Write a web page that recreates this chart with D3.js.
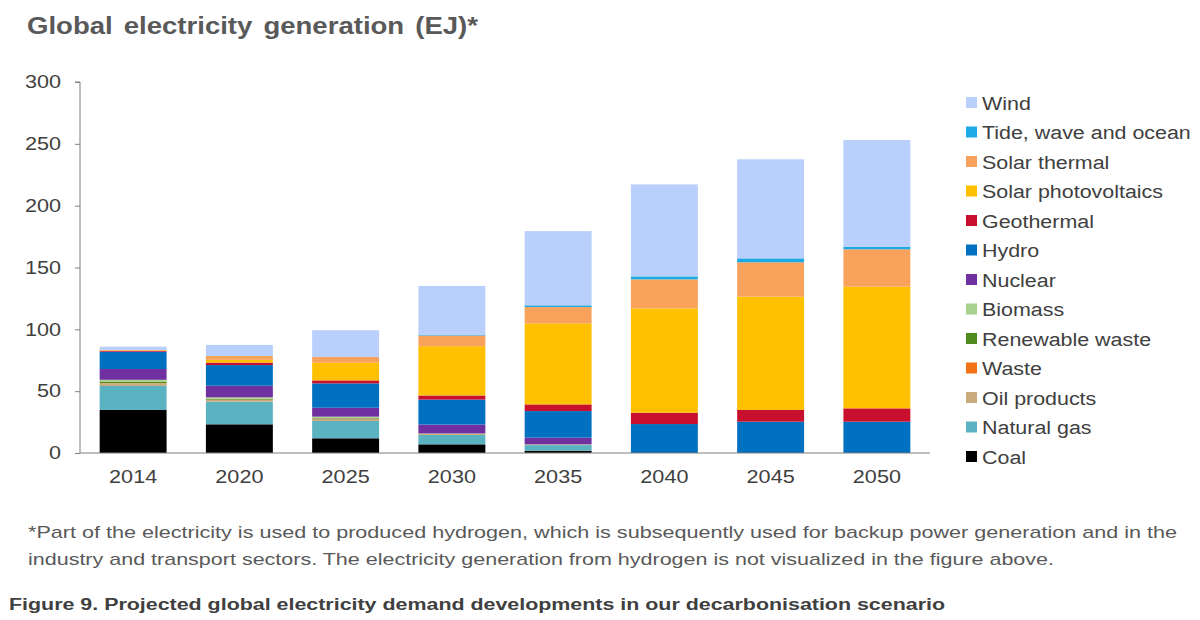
<!DOCTYPE html>
<html><head><meta charset="utf-8">
<script src="https://cdn.jsdelivr.net/npm/d3@7"></script>
<style>
html,body{margin:0;padding:0;background:#fff;}
text{font-family:"Liberation Sans",Arial,sans-serif;}
</style></head>
<body><svg id="c" width="1200" height="620"></svg>
<script>
const years = ["2014","2020","2025","2030","2035","2040","2045","2050"];
// series bottom to top
const coal        = [34.8, 23.2, 11.9, 7.0, 1.8, 0, 0, 0];
const naturalGas  = [19.4, 18.3, 14.0, 7.6, 4.6, 0, 0, 0];
const oilProducts = [2.1, 1.5, 1.8, 0.6, 0.3, 0, 0, 0];
const waste       = [0.2, 0.2, 0.2, 0.1, 0, 0, 0, 0];
const renewableWaste = [1.2, 0.6, 0.5, 0.2, 0.1, 0, 0, 0];
const biomass     = [1.5, 1.2, 1.0, 0.3, 0.2, 0, 0, 0];
const nuclear     = [8.7, 9.4, 7.2, 7.2, 5.4, 0, 0, 0];
const hydro       = [14.0, 16.7, 19.7, 20.2, 21.5, 23.4, 25.3, 25.3];
const geothermal  = [0.8, 2.0, 2.4, 3.3, 5.4, 9.2, 9.5, 10.8];
const solarPV     = [0.4, 2.2, 14.3, 39.9, 65.5, 84.4, 91.6, 98.4];
const solarThermal= [0.1, 3.2, 4.6, 8.6, 13.2, 23.4, 27.8, 30.2];
const tide        = [0, 0, 0.1, 0.5, 1.4, 2.4, 3.2, 2.1];
const wind        = [2.8, 8.9, 21.6, 39.6, 60.0, 74.4, 80.1, 86.3];

const seriesNames = ["Coal","Natural gas","Oil products","Waste","Renewable waste","Biomass","Nuclear","Hydro","Geothermal","Solar photovoltaics","Solar thermal","Tide, wave and ocean","Wind"];
const seriesValues = [coal,naturalGas,oilProducts,waste,renewableWaste,biomass,nuclear,hydro,geothermal,solarPV,solarThermal,tide,wind];
const colors = ["#000000","#5bb3c1","#c9ab7e","#f47216","#4e8a1e","#a9d18e","#7030a0","#0070c0","#c8102e","#ffc000","#f9a25c","#1ca9e6","#b8d0fb"];
const yTicks = [0,50,100,150,200,250,300];

const title = "Global electricity generation (EJ)*";
const note1 = "*Part of the electricity is used to produced hydrogen, which is subsequently  used for backup power generation and in the";
const note2 = "industry and transport sectors. The electricity generation  from hydrogen is not visualized  in the figure above.";
const caption = "Figure 9. Projected global electricity demand developments in our decarbonisation scenario";

const svg = d3.select("#c");
const pLeft = 80, pRight = 930, pTop = 82, pBottom = 453;

// horizontal stretch helper (reference text is horizontally widened)
function stretch(sel, factor, target){
  sel.each(function(){
    const w = this.getComputedTextLength();
    const t = target != null ? target : w*factor;
    d3.select(this).attr("textLength", t).attr("lengthAdjust","spacingAndGlyphs");
  });
}

const rows = years.map((yr,i)=>{const r={year:yr}; seriesNames.forEach((n,k)=>r[n]=seriesValues[k][i]); return r;});
const stack = d3.stack().keys(seriesNames)(rows);

const x = d3.scaleBand().domain(years).range([pLeft,pRight]).paddingInner(0.37).paddingOuter(0.185);
const y = d3.scaleLinear().domain([0,300]).range([pBottom,pTop]);

svg.append("text").attr("x",27).attr("y",34).attr("font-size",24).attr("font-weight","bold")
  .attr("fill","#595959").attr("word-spacing","3px").text(title).call(stretch,null,451);

svg.append("g").selectAll("g").data(stack).join("g").attr("fill",(d,i)=>colors[i])
  .selectAll("rect").data(d=>d).join("rect")
  .attr("x",d=>x(d.data.year)).attr("width",x.bandwidth())
  .attr("y",d=>y(d[1])).attr("height",d=>Math.max(0,y(d[0])-y(d[1])));

const ya = svg.append("g").attr("transform",`translate(${pLeft},0)`)
  .call(d3.axisLeft(y).tickValues(yTicks).tickSize(5).tickPadding(14));
ya.selectAll("path,line").attr("stroke","#7f7f7f");
ya.selectAll("text").attr("font-size",18).attr("fill","#404040").attr("font-family","Liberation Sans, Arial, sans-serif").call(stretch,1.2);
ya.select(".domain").attr("d",`M-5,${pTop}H0V${pBottom}`);

const xa = svg.append("g").attr("transform",`translate(0,${pBottom})`)
  .call(d3.axisBottom(x).tickSize(0).tickPadding(17));
xa.select(".domain").attr("stroke","#7f7f7f").attr("d",`M${pLeft},0H${pRight}`);
xa.selectAll("text").attr("font-size",18).attr("fill","#404040").attr("font-family","Liberation Sans, Arial, sans-serif").call(stretch,1.2);

const lg = svg.append("g");
const legendOrder = seriesNames.map((n,i)=>({n,c:colors[i]})).reverse();
legendOrder.forEach((d,i)=>{
  const yy = 103 + i*29.5;
  lg.append("rect").attr("x",966).attr("y",yy-6).attr("width",11).attr("height",11).attr("fill",d.c);
  lg.append("text").attr("x",982).attr("y",yy+6.5).attr("font-size",18).attr("fill","#404040").text(d.n).call(stretch,1.19);
});

svg.append("text").attr("x",28).attr("y",538).attr("font-size",17).attr("fill","#595959").text(note1).call(stretch,null,1149);
svg.append("text").attr("x",28).attr("y",565).attr("font-size",17).attr("fill","#595959").text(note2).call(stretch,null,1026);
svg.append("text").attr("x",9).attr("y",610).attr("font-size",16).attr("font-weight","bold").attr("fill","#404040").text(caption).call(stretch,null,936);
</script></body></html>
